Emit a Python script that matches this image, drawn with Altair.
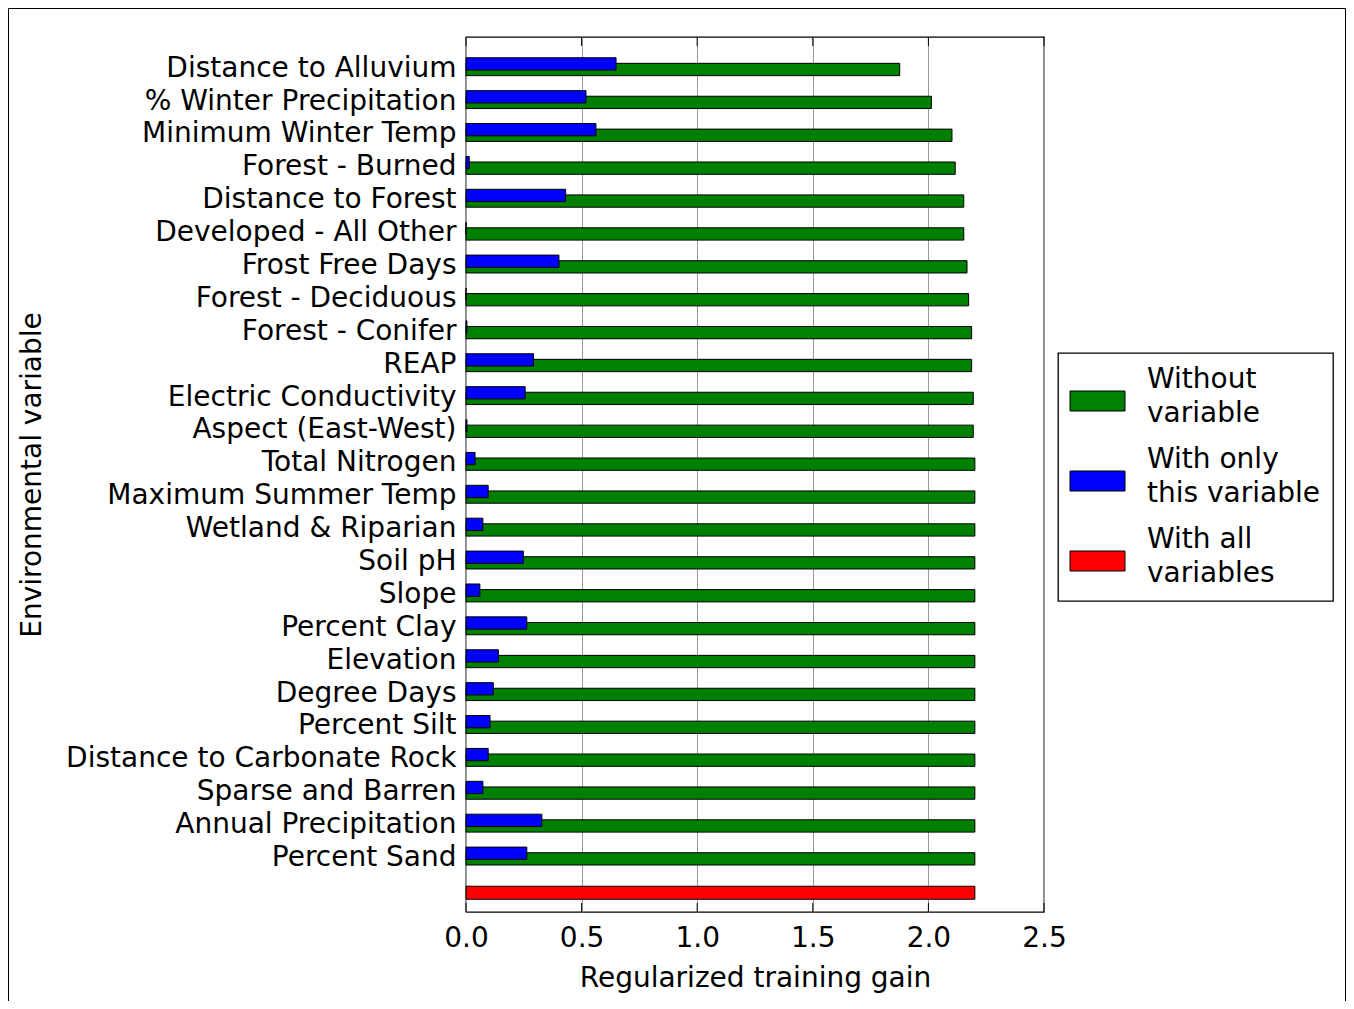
import altair as alt
import pandas as pd

variables = [
    "Distance to Alluvium", "% Winter Precipitation", "Minimum Winter Temp",
    "Forest - Burned", "Distance to Forest", "Developed - All Other",
    "Frost Free Days", "Forest - Deciduous", "Forest - Conifer", "REAP",
    "Electric Conductivity", "Aspect (East-West)", "Total Nitrogen",
    "Maximum Summer Temp", "Wetland & Riparian", "Soil pH", "Slope",
    "Percent Clay", "Elevation", "Degree Days", "Percent Silt",
    "Distance to Carbonate Rock", "Sparse and Barren", "Annual Precipitation",
    "Percent Sand",
]
without_var = [1.876, 2.013, 2.102, 2.116, 2.153, 2.153, 2.167, 2.174, 2.187,
               2.187, 2.194, 2.194, 2.201, 2.201, 2.201, 2.201, 2.201, 2.201,
               2.201, 2.201, 2.201, 2.201, 2.201, 2.201, 2.201]
only_var = [0.649, 0.519, 0.562, 0.014, 0.431, 0.0, 0.402, 0.0, 0.004, 0.292,
            0.256, 0.004, 0.039, 0.096, 0.073, 0.248, 0.060, 0.263, 0.140,
            0.118, 0.104, 0.096, 0.073, 0.328, 0.263]
all_vars = 2.201
x_ticks = [0.0, 0.5, 1.0, 1.5, 2.0, 2.5]

series = ["Without|variable", "With only|this variable", "With all|variables"]
colors = ["#008000", "#0000ff", "#ff0000"]
ALL_KEY = "__all__"
order = variables + [ALL_KEY]

green_df = pd.DataFrame({"name": variables, "gain": without_var, "series": series[0]})
blue_df = pd.DataFrame({"name": variables, "gain": only_var, "series": series[1]})
red_df = pd.DataFrame({"name": [ALL_KEY], "gain": [all_vars], "series": [series[2]]})
tick_df = pd.DataFrame({"t": x_ticks})
frame_df = pd.DataFrame({"a": [0]})

FONT = "DejaVu Sans"
FS = 28

x_enc = alt.X(
    "gain:Q",
    scale=alt.Scale(domain=[0, 2.5], nice=False, zero=True),
    axis=alt.Axis(
        values=x_ticks, format=".1f", grid=True, gridColor="#9a9a9a",
        gridWidth=1, ticks=False, domain=False, labelPadding=12,
        labelFlush=False, labelFontSize=FS, titleFontSize=FS, titleY=74,
        titleBaseline="alphabetic",
    ),
    title="Regularized training gain",
)
y_enc = alt.Y(
    "name:N",
    sort=order,
    scale=alt.Scale(domain=order, paddingInner=0, paddingOuter=0.302, align=0.667),
    axis=alt.Axis(
        ticks=False, domain=False, grid=False, labelPadding=10, labelOffset=2,
        labelFontSize=FS, titleFontSize=FS, labelLimit=500,
        labelExpr="datum.value == '__all__' ? '' : datum.label",
        titleX=-434, titleBaseline="middle",
    ),
    title="Environmental variable",
)
color_enc = alt.Color(
    "series:N",
    scale=alt.Scale(domain=series, range=colors),
    legend=alt.Legend(title=None, labelExpr="split(datum.label, '|')"),
)

frame = alt.Chart(frame_df).mark_rect(
    fill="transparent", stroke="black", strokeWidth=1, clip=False
).encode(
    x=alt.value(-457.5), x2=alt.value(879.5),
    y=alt.value(-28.5), y2=alt.value(1000),
)

green = alt.Chart(green_df).mark_bar(
    size=12.3, yOffset=2.8, stroke="black", strokeWidth=1, opacity=1
).encode(x=x_enc, y=y_enc, color=color_enc)

blue = alt.Chart(blue_df).mark_bar(
    size=12.3, yOffset=-2.8, stroke="black", strokeWidth=1, opacity=1
).encode(x="gain:Q", y=alt.Y("name:N", sort=order), color=color_enc)

red = alt.Chart(red_df).mark_bar(
    size=13, yOffset=3.8, stroke="black", strokeWidth=1, opacity=1
).encode(x="gain:Q", y=alt.Y("name:N", sort=order), color=color_enc)

ticks_bottom = alt.Chart(tick_df).mark_rule(color="black", strokeWidth=1).encode(
    x="t:Q", y=alt.value(875), y2=alt.value(866)
)
ticks_top = alt.Chart(tick_df).mark_rule(color="black", strokeWidth=1).encode(
    x="t:Q", y=alt.value(0), y2=alt.value(9)
)

chart = alt.layer(frame, green, blue, red, ticks_bottom, ticks_top).properties(
    width=578, height=875,
    padding={"left": 458, "top": 29, "right": 302, "bottom": 89},
    autosize=alt.AutoSizeParams(type="none"),
).configure(
    font=FONT,
    style={"guide-label": {"lineHeight": 34}},
).configure_view(
    stroke="black", strokeWidth=1.3
).configure_axis(
    labelFont=FONT, titleFont=FONT, labelColor="black", titleColor="black",
    titleFontWeight="normal",
).configure_legend(
    orient="none", legendX=592, legendY=316, padding=13,
    strokeColor="black", strokeWidth=1.3, fillColor="white",
    symbolType="M-1.5,1.1H4V3.1H-1.5Z", symbolSize=400,
    symbolStrokeColor="black", symbolStrokeWidth=1, symbolOpacity=1,
    labelFont=FONT, labelFontSize=FS, labelColor="black", labelOffset=48,
    labelLimit=400, rowPadding=18, cornerRadius=0,
)

chart.save("out.html", embed_options={"renderer": "svg", "actions": False})
